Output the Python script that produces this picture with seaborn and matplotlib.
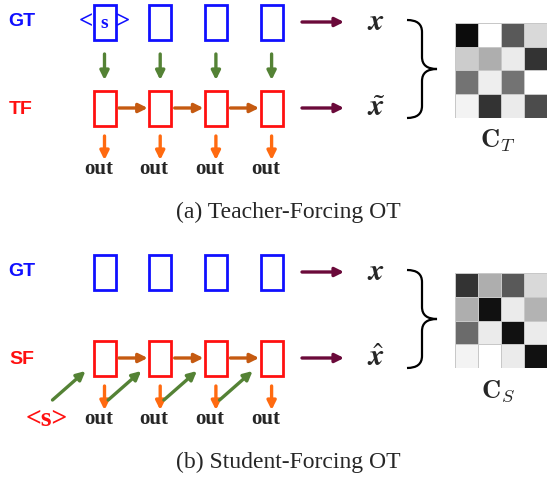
import numpy as np
import matplotlib
matplotlib.use('Agg')
import matplotlib.pyplot as plt
import seaborn as sns
from matplotlib.patches import Rectangle, PathPatch
from matplotlib.path import Path

sns.set_theme(style='white')
plt.rcParams['mathtext.fontset'] = 'cm'

# cost matrices shown as grey squares (0 = black, 1 = white)
cost_teacher = np.array([
    [0.05, 1.00, 0.35, 0.85],
    [0.80, 0.68, 0.92, 0.20],
    [0.45, 0.93, 0.45, 1.00],
    [0.95, 0.20, 0.92, 0.30],
])
cost_student = np.array([
    [0.20, 0.68, 0.35, 0.85],
    [0.68, 0.07, 0.92, 0.70],
    [0.42, 0.92, 0.07, 0.92],
    [0.95, 1.00, 0.92, 0.07],
])

steps = [0, 1, 2, 3]
row_labels_top = ['GT', 'TF']
row_labels_bottom = ['GT', 'SF']
captions = ['(a) Teacher-Forcing OT', '(b) Student-Forcing OT']
seq_labels = [r'$\mathbfit{x}$', r'$\tilde{\mathbfit{x}}$', r'$\hat{\mathbfit{x}}$']
matrix_labels = [r'$\mathbf{C}_T$', r'$\mathbf{C}_S$']

BLUE = '#1010ff'
RED = '#ff1010'
GREEN = '#548235'
BROWN = '#c55a11'
ORANGE = '#ff6a10'
MAROON = '#6b0a3a'

fig = plt.figure(figsize=(5.48, 4.84), dpi=100)
ax = fig.add_axes([0, 0, 1, 1])
ax.set_xlim(0, 548)
ax.set_ylim(484, 0)
ax.axis('off')

x0, dx, bw, bh = 104.5, 55.7, 22, 35


def arrow(p0, p1, color, lw=2.4, ms=13):
    ax.annotate('', xy=p1, xytext=p0,
                arrowprops=dict(arrowstyle='-|>', color=color, lw=lw,
                                mutation_scale=ms, shrinkA=0, shrinkB=0))


def box(cx, cy, color):
    ax.add_patch(Rectangle((cx - bw / 2, cy - bh / 2), bw, bh, fill=False,
                           ec=color, lw=2.0))


def brace(x, y0, y1):
    ym = (y0 + y1) / 2
    w = 15
    verts = [(x, y0), (x + w, y0), (x + w, y0 + 12),
             (x + w, ym - 12),
             (x + w, ym), (x + 2 * w, ym),
             (x + w, ym), (x + w, ym + 12),
             (x + w, y1 - 12),
             (x + w, y1), (x, y1)]
    codes = [Path.MOVETO, Path.CURVE3, Path.CURVE3, Path.LINETO,
             Path.CURVE3, Path.CURVE3, Path.CURVE3, Path.CURVE3,
             Path.LINETO, Path.CURVE3, Path.CURVE3]
    ax.add_patch(PathPatch(Path(verts, codes), fill=False, ec='black', lw=1.6))


def heat(data, left, top, label):
    hax = fig.add_axes([left / 548, 1 - (top + 95) / 484, 92 / 548, 95 / 484])
    sns.heatmap(data, ax=hax, cmap='gray', vmin=0, vmax=1, cbar=False,
                xticklabels=False, yticklabels=False,
                linewidths=0.4, linecolor='#c8c8c8')
    ax.text(left + 43, top + 118, label, fontsize=19, ha='center', va='center')


def panel(off, labels, student, seq_label, mat, mat_label, caption):
    gt_y = 22 + off
    dec_y = 108 + off
    ax.text(8, gt_y, labels[0], color=BLUE, fontsize=14, fontweight='bold',
            family='Liberation Sans', va='center')
    ax.text(9, dec_y + 1, labels[1], color=RED, fontsize=14, fontweight='bold',
            family='Liberation Sans', va='center')
    for i in steps:
        cx = x0 + i * dx
        box(cx, gt_y, BLUE)
        box(cx, dec_y, RED)
        if not student:
            arrow((cx, gt_y + 32), (cx, gt_y + 58), GREEN)
        else:
            arrow((cx - 52, dec_y + 42), (cx - 19, dec_y + 13), GREEN)
        if i < steps[-1]:
            arrow((cx + 14.5, dec_y), (cx + dx - 12.5, dec_y), BROWN)
        arrow((cx, dec_y + 28), (cx, dec_y + 52), ORANGE)
        ax.text(cx - 6, dec_y + 61, 'out', fontsize=15, fontweight='bold',
                family='Liberation Serif', ha='center', va='center')
    if not student:
        ax.text(86, gt_y, '<', color=BLUE, fontsize=18, fontweight='bold',
                family='Liberation Serif', ha='center', va='center')
        ax.text(122.5, gt_y, '>', color=BLUE, fontsize=18, fontweight='bold',
                family='Liberation Serif', ha='center', va='center')
        ax.text(x0, gt_y + 1, 's', color=BLUE, fontsize=14, fontweight='bold',
                family='Liberation Serif', ha='center', va='center')
    else:
        ax.text(47, dec_y + 62, '<s>', color=RED, fontsize=20, fontweight='bold',
                family='Liberation Serif', ha='center', va='center')
    arrow((302, gt_y), (344, gt_y), MAROON, lw=2.4)
    arrow((302, dec_y), (344, dec_y), MAROON, lw=2.4)
    ax.text(376, gt_y, seq_label[0], fontsize=22, ha='center', va='center',
            math_fontfamily='stix')
    ax.text(376, dec_y, seq_label[1], fontsize=22, ha='center', va='center',
            math_fontfamily='stix')
    brace(407, gt_y - 2, dec_y + 10)
    heat(mat, 455, 23 + off, mat_label)
    ax.text(288, 212 + off, caption, fontsize=17, family='Liberation Serif',
            ha='center', va='center')


panel(0, row_labels_top, False, [seq_labels[0], seq_labels[1]],
      cost_teacher, matrix_labels[0], captions[0])
panel(250, row_labels_bottom, True, [seq_labels[0], seq_labels[2]],
      cost_student, matrix_labels[1], captions[1])

fig.savefig('out.png', dpi=100)
